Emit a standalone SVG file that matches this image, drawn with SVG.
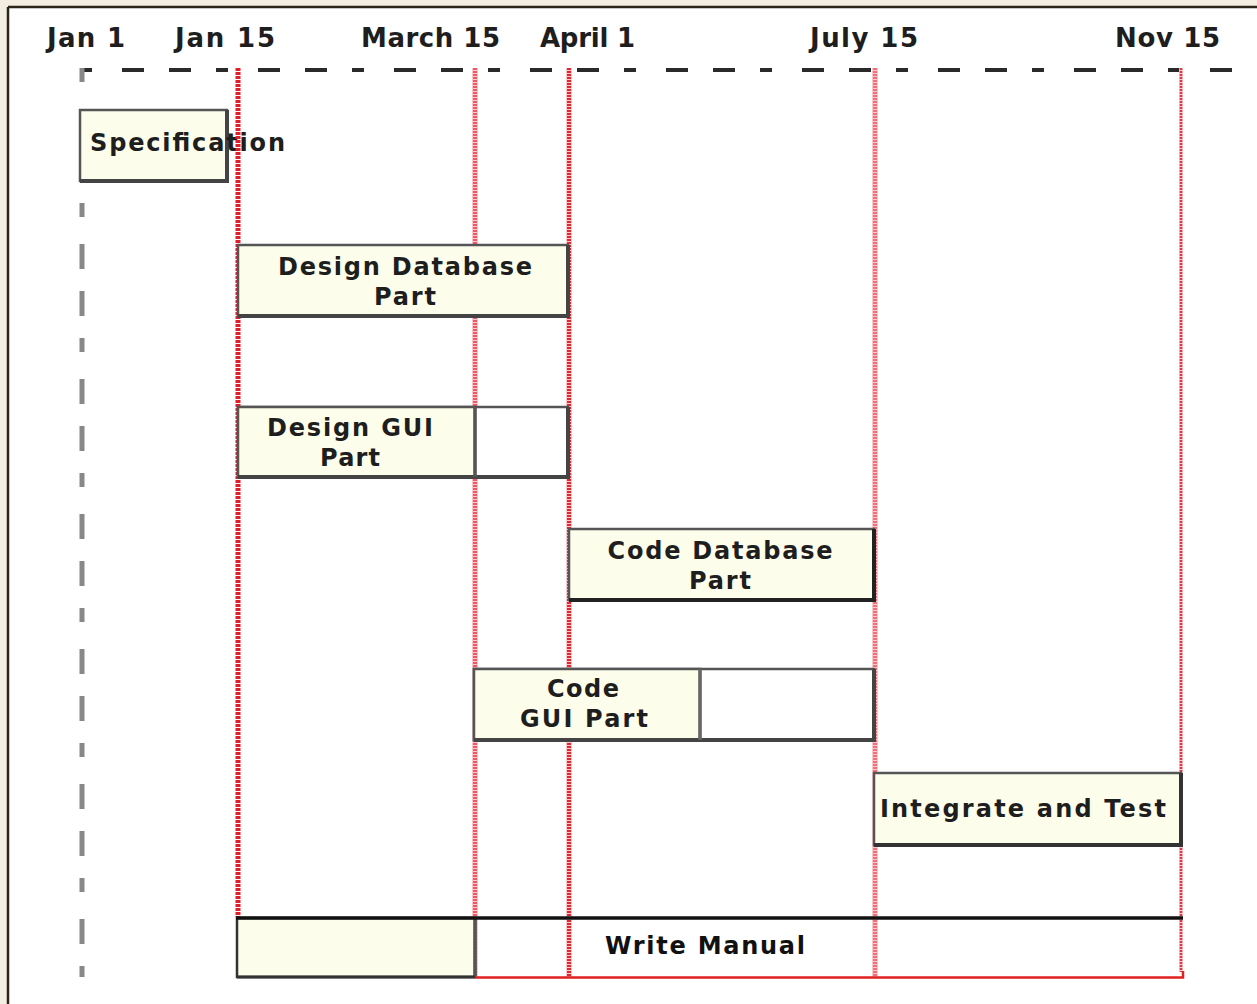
<svg xmlns="http://www.w3.org/2000/svg" width="1257" height="1004" viewBox="0 0 1257 1004">
  <style>
    .lbl { font-family: "DejaVu Sans", Verdana, sans-serif; font-weight: bold; font-size: 26px; fill: #1e1e1e; }
    .txt { font-family: "DejaVu Sans", Verdana, sans-serif; font-weight: bold; font-size: 24px; fill: #1e1e1e; }
    .box { fill: #fdfdeb; stroke: #555; stroke-width: 2.5; }
    .empty { fill: #ffffff; stroke: #555; stroke-width: 2.5; }
    .shadow { stroke: #444; stroke-width: 4; fill: none; stroke-linecap: square; }
    .halo { stroke: #f9c8cc; stroke-width: 6; fill: none; }
    .red { stroke: #e8404a; stroke-width: 4; stroke-dasharray: 2 1; fill: none; }
    .redstrong { stroke: #e41e28; stroke-width: 5; stroke-dasharray: 3 1; fill: none; }
  </style>
  <!-- frame -->
  <rect x="0" y="0" width="1257" height="1004" fill="#f2efe2"/>
  <rect x="8" y="7" width="1249" height="997" fill="#ffffff"/>
  <line x1="8" y1="7" x2="1257" y2="7" stroke="#2b2519" stroke-width="2.5"/>
  <line x1="8" y1="7" x2="8" y2="1004" stroke="#2b2519" stroke-width="2.5"/>

  <!-- header labels -->
  <g id="labels">
    <text class="lbl" x="47" y="47" textLength="78" lengthAdjust="spacing">Jan 1</text>
    <text class="lbl" x="175" y="47" textLength="100" lengthAdjust="spacing">Jan 15</text>
    <text class="lbl" x="361" y="47" textLength="139" lengthAdjust="spacing">March 15</text>
    <text class="lbl" x="540" y="47" textLength="95" lengthAdjust="spacing">April 1</text>
    <text class="lbl" x="810" y="47" textLength="108" lengthAdjust="spacing">July 15</text>
    <text class="lbl" x="1115" y="47" textLength="105" lengthAdjust="spacing">Nov 15</text>
  </g>

  <!-- time axes -->
  <g id="axes">
    <line x1="80" y1="70" x2="1240" y2="70" stroke="#2a2a2a" stroke-width="4" stroke-dasharray="12 30 22 25 22 25"/>
    <line x1="82" y1="68" x2="82" y2="977" stroke="#888" stroke-width="5" stroke-dasharray="14 27 25 22 25 22" />
  </g>

  <g id="specification">
    <rect class="box" x="80" y="110" width="147" height="71"/>
    <polyline class="shadow" points="227,112 227,181 82,181"/>
    <text class="txt" x="90" y="151" textLength="195" lengthAdjust="spacing">Specification</text>
  </g>

  <!-- milestone lines -->
  <g id="connectors">
    <line class="halo" x1="475" y1="68" x2="475" y2="977"/>
    <line class="halo" x1="569" y1="68" x2="569" y2="977"/>
    <line class="halo" x1="875" y1="68" x2="875" y2="977"/>
    <line class="halo" x1="1181" y1="68" x2="1181" y2="972" style="stroke-width:4"/>
    <line class="redstrong" x1="238" y1="68" x2="238" y2="917"/>
    <line class="red" x1="475" y1="68" x2="475" y2="977" style="stroke:#ee5a64"/>
    <line class="red" x1="569" y1="68" x2="569" y2="977" style="stroke:#e02830"/>
    <line class="red" x1="875" y1="68" x2="875" y2="977" style="stroke:#f07078"/>
    <line class="red" x1="1181" y1="68" x2="1181" y2="972" style="stroke-width:2.5;stroke:#d83a44"/>
  </g>

  <g id="design-database">
    <rect class="box" x="238" y="245" width="330" height="71"/>
    <polyline class="shadow" points="568,247 568,316 240,316"/>
    <text class="txt" x="405" y="275" text-anchor="middle" textLength="254" lengthAdjust="spacing">Design Database</text>
    <text class="txt" x="405" y="305" text-anchor="middle" textLength="62" lengthAdjust="spacing">Part</text>
  </g>

  <g id="design-gui">
    <rect class="empty" x="238" y="407" width="330" height="70"/>
    <rect class="box" x="238" y="407" width="237" height="70"/>
    <polyline class="shadow" points="568,409 568,477 240,477"/>
    <line x1="475" y1="407" x2="475" y2="477" stroke="#555" stroke-width="3.5"/>
    <text class="txt" x="350" y="436" text-anchor="middle" textLength="166" lengthAdjust="spacing">Design GUI</text>
    <text class="txt" x="350" y="466" text-anchor="middle" textLength="60" lengthAdjust="spacing">Part</text>
  </g>

  <g id="code-database">
    <rect class="box" x="569" y="529" width="305" height="71"/>
    <polyline class="shadow" points="874,531 874,600 571,600" style="stroke:#222"/>
    <text class="txt" x="720" y="559" text-anchor="middle" textLength="225" lengthAdjust="spacing">Code Database</text>
    <text class="txt" x="720" y="589" text-anchor="middle" textLength="62" lengthAdjust="spacing">Part</text>
  </g>

  <g id="code-gui">
    <rect class="empty" x="474" y="669" width="400" height="71"/>
    <rect class="box" x="474" y="669" width="226" height="71"/>
    <polyline class="shadow" points="874,671 874,740 476,740"/>
    <line x1="700" y1="669" x2="700" y2="740" stroke="#666" stroke-width="3.5"/>
    <text class="txt" x="583" y="697" text-anchor="middle" textLength="72" lengthAdjust="spacing">Code</text>
    <text class="txt" x="584" y="727" text-anchor="middle" textLength="128" lengthAdjust="spacing">GUI Part</text>
  </g>

  <g id="integrate-test">
    <rect class="box" x="874" y="773" width="307" height="72"/>
    <polyline class="shadow" points="1181,775 1181,845 876,845" style="stroke:#333"/>
    <text class="txt" x="880" y="817" textLength="286" lengthAdjust="spacing">Integrate and Test</text>
  </g>

  <g id="write-manual">
    <rect class="box" x="237" y="918" width="238" height="59" style="stroke:#333"/>
    <line x1="475" y1="918" x2="475" y2="977" stroke="#555" stroke-width="3.5"/>
    <line x1="236" y1="918" x2="1183" y2="918" stroke="#111" stroke-width="3.5"/>
    <line x1="237" y1="977" x2="475" y2="977" stroke="#333" stroke-width="3"/>
    <polyline points="475,977.5 1183,977.5 1183,971" fill="none" stroke="#e02020" stroke-width="2.5"/>
    <text class="txt" x="605" y="954" textLength="200" lengthAdjust="spacing" style="fill:#111">Write Manual</text>
  </g>
</svg>
